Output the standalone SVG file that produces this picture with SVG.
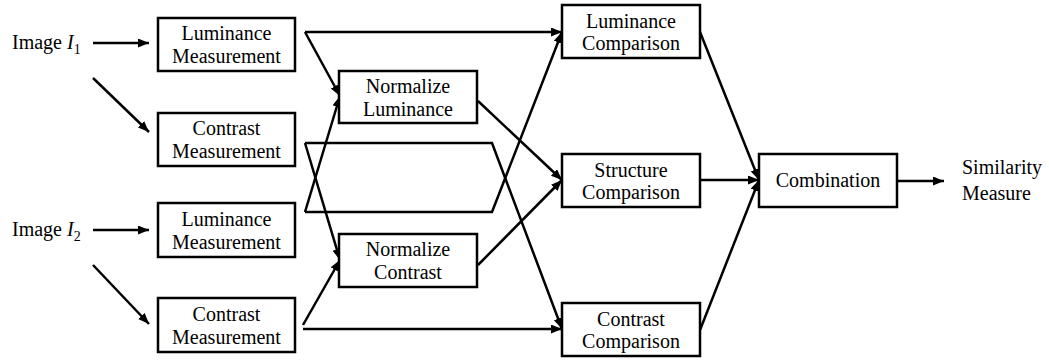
<svg xmlns="http://www.w3.org/2000/svg" width="1049" height="360" viewBox="0 0 1049 360">
  <style>
    .box { fill: #ffffff; stroke: #000000; stroke-width: 2.5; }
    .conn { fill: none; stroke: #000000; stroke-width: 2.5; stroke-linejoin: miter; }
    .arr { marker-end: url(#head); }
  </style>
  <defs>
    <marker id="head" markerUnits="userSpaceOnUse" markerWidth="12" markerHeight="10" refX="11" refY="4.5" orient="auto">
      <path d="M0,0 L11,4.5 L0,9 Z" fill="#000000"/>
    </marker>
  </defs>
  <rect width="1049" height="360" fill="#ffffff"/>

  <!-- connectors -->
  <g id="connectors">
    <line class="conn arr" x1="93" y1="43" x2="149" y2="43"/>
    <line class="conn arr" x1="93" y1="78" x2="149" y2="132"/>
    <line class="conn arr" x1="93" y1="230" x2="149" y2="230"/>
    <line class="conn arr" x1="93" y1="265" x2="149" y2="324"/>

    <line class="conn arr" x1="305" y1="32" x2="562" y2="32"/>
    <line class="conn arr" x1="305" y1="32" x2="340" y2="96"/>
    <polyline class="conn arr" points="305,143 492,143 562,329"/>
    <line class="conn arr" x1="305" y1="143" x2="340" y2="260"/>
    <polyline class="conn arr" points="305,212 492,212 562,32"/>
    <line class="conn arr" x1="305" y1="212" x2="340" y2="96"/>
    <line class="conn arr" x1="303" y1="329" x2="562" y2="329"/>
    <line class="conn arr" x1="303" y1="325" x2="340" y2="260"/>

    <line class="conn arr" x1="478" y1="101" x2="562" y2="180"/>
    <line class="conn arr" x1="478" y1="265" x2="562" y2="180"/>

    <line class="conn arr" x1="700" y1="32" x2="759" y2="180"/>
    <line class="conn arr" x1="700" y1="180" x2="759" y2="180"/>
    <line class="conn arr" x1="700" y1="330" x2="759" y2="180"/>
    <line class="conn arr" x1="897" y1="181" x2="944" y2="181"/>
  </g>

  <!-- all labels share one serif face -->
  <g font-family="Liberation Serif, Times New Roman, DejaVu Serif, serif" font-size="20" fill="#000000">
    <!-- inputs -->
    <g id="image1">
      <text x="12" y="49">Image <tspan font-style="italic">I</tspan><tspan font-size="14" dy="5">1</tspan></text>
    </g>
    <g id="image2">
      <text x="12" y="236">Image <tspan font-style="italic">I</tspan><tspan font-size="14" dy="5">2</tspan></text>
    </g>

    <g text-anchor="middle">
      <!-- measurement stage -->
      <g id="lum-meas-1">
        <rect class="box" x="158" y="18" width="137" height="53"/>
        <text x="226.5" y="40">Luminance</text>
        <text x="226.5" y="63">Measurement</text>
      </g>
      <g id="con-meas-1">
        <rect class="box" x="158" y="113" width="137" height="53"/>
        <text x="226.5" y="135">Contrast</text>
        <text x="226.5" y="158">Measurement</text>
      </g>
      <g id="lum-meas-2">
        <rect class="box" x="158" y="203" width="137" height="54"/>
        <text x="226.5" y="226">Luminance</text>
        <text x="226.5" y="249">Measurement</text>
      </g>
      <g id="con-meas-2">
        <rect class="box" x="158" y="298" width="137" height="54"/>
        <text x="226.5" y="321">Contrast</text>
        <text x="226.5" y="344">Measurement</text>
      </g>

      <!-- normalization stage -->
      <g id="norm-lum">
        <rect class="box" x="339" y="71" width="138" height="52"/>
        <text x="408" y="93">Normalize</text>
        <text x="408" y="116">Luminance</text>
      </g>
      <g id="norm-con">
        <rect class="box" x="339" y="234" width="138" height="53"/>
        <text x="408" y="256">Normalize</text>
        <text x="408" y="279">Contrast</text>
      </g>

      <!-- comparison stage -->
      <g id="lum-comp">
        <rect class="box" x="562" y="5" width="138" height="53"/>
        <text x="631" y="28">Luminance</text>
        <text x="631" y="50">Comparison</text>
      </g>
      <g id="struct-comp">
        <rect class="box" x="562" y="154" width="138" height="53"/>
        <text x="631" y="177">Structure</text>
        <text x="631" y="199">Comparison</text>
      </g>
      <g id="con-comp">
        <rect class="box" x="562" y="303" width="138" height="53"/>
        <text x="631" y="326">Contrast</text>
        <text x="631" y="348">Comparison</text>
      </g>

      <!-- combination -->
      <g id="combination">
        <rect class="box" x="759" y="154" width="138" height="53"/>
        <text x="828" y="187">Combination</text>
      </g>
    </g>

    <!-- output -->
    <g id="output">
      <text x="962" y="174">Similarity</text>
      <text x="962" y="200">Measure</text>
    </g>
  </g>
</svg>
